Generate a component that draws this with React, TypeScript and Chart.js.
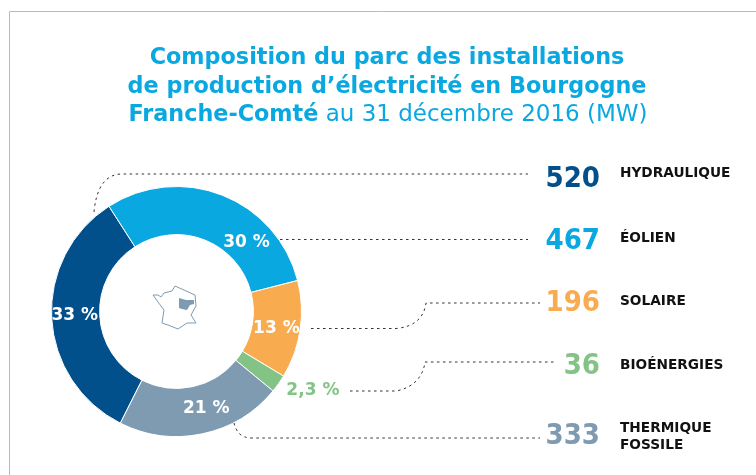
import React, { useEffect, useRef } from "react";
import { Chart, registerables } from "chart.js";

Chart.register(...registerables);

const categories = ["HYDRAULIQUE", "ÉOLIEN", "SOLAIRE", "BIOÉNERGIES", "THERMIQUE FOSSILE"];
const values = [520, 467, 196, 36, 333];
const percentLabels = ["33 %", "30 %", "13 %", "2,3 %", "21 %"];
const colors = ["#01508c", "#09a8e0", "#f9ab50", "#83c486", "#7e9bb2"];
const percentColors = ["#ffffff", "#ffffff", "#ffffff", "#83c486", "#ffffff"];

const FONT = '"DejaVu Sans", sans-serif';
const NARROW = '"DejaVu Sans Condensed", "DejaVu Sans", sans-serif';
const BOLD = `bold 22.3px ${FONT}`;
const REG = `23px ${FONT}`;

const percentOffsets = [[-1, -1], [33, 25], [0, 2], [54, 21], [9, -2]];
const valueBaselines = [187, 249, 311, 374, 444];
const labelLines = [["HYDRAULIQUE"], ["ÉOLIEN"], ["SOLAIRE"], ["BIOÉNERGIES"], ["THERMIQUE", "FOSSILE"]];
const labelBaselines = [[177], [242], [305], [369], [432, 449]];

function leaders(ctx: CanvasRenderingContext2D) {
  const path = (fn: () => void) => {
    ctx.beginPath();
    fn();
    ctx.stroke();
  };
  ctx.save();
  ctx.strokeStyle = "#333333";
  ctx.lineWidth = 1;
  ctx.setLineDash([2.5, 3.5]);
  path(() => {
    ctx.moveTo(94, 212);
    ctx.bezierCurveTo(96, 190, 104, 174, 122, 174);
    ctx.lineTo(528, 174);
  });
  path(() => {
    ctx.moveTo(280, 239.5);
    ctx.lineTo(528, 239.5);
  });
  path(() => {
    ctx.moveTo(311, 328.5);
    ctx.lineTo(396, 328.5);
    ctx.bezierCurveTo(414, 327, 424, 318, 426, 303);
    ctx.lineTo(540, 303);
  });
  path(() => {
    ctx.moveTo(350, 391);
    ctx.lineTo(396, 391);
    ctx.bezierCurveTo(412, 388, 423, 378, 425, 362);
    ctx.lineTo(555, 362);
  });
  path(() => {
    ctx.moveTo(234, 423);
    ctx.bezierCurveTo(236, 431, 240, 438, 252, 438);
    ctx.lineTo(540, 438);
  });
  ctx.restore();
}

function franceMap(ctx: CanvasRenderingContext2D) {
  const outline = [[153, 295], [158, 295], [161, 297], [164, 293], [172, 291], [175, 286], [184, 290], [195, 295], [196, 306], [191, 315], [196, 323], [187, 323], [178, 329], [168, 325], [162, 323], [164, 310], [158, 302]];
  const region = [[179, 298], [186, 300], [194, 300], [194, 304], [190, 305], [187, 310], [182, 309], [179, 308]];
  const poly = (pts: number[][]) => {
    ctx.beginPath();
    pts.forEach(([x, y], i) => (i ? ctx.lineTo(x, y) : ctx.moveTo(x, y)));
    ctx.closePath();
  };
  ctx.save();
  ctx.strokeStyle = "#7e9bb2";
  ctx.lineWidth = 1;
  poly(outline);
  ctx.stroke();
  ctx.fillStyle = "#7e9bb2";
  poly(region);
  ctx.fill();
  ctx.restore();
}

const overlay = {
  id: "overlay",
  afterDatasetsDraw(chart: any) {
    const ctx: CanvasRenderingContext2D = chart.ctx;
    ctx.save();
    // frame
    ctx.strokeStyle = "#bbbbbb";
    ctx.lineWidth = 1;
    ctx.beginPath();
    ctx.moveTo(9.5, 475);
    ctx.lineTo(9.5, 11.5);
    ctx.lineTo(756, 11.5);
    ctx.stroke();

    // title
    ctx.fillStyle = "#09a8e0";
    ctx.textBaseline = "alphabetic";
    ctx.textAlign = "center";
    ctx.font = BOLD;
    ctx.fillText("Composition du parc des installations", 387, 64);
    ctx.fillText("de production d’électricité en Bourgogne", 387, 93);
    ctx.textAlign = "left";
    const a = "Franche-Comté";
    const b = " au 31 décembre 2016 (MW)";
    ctx.font = BOLD;
    const wa = ctx.measureText(a).width;
    ctx.font = REG;
    const wb = ctx.measureText(b).width;
    const x0 = 388 - (wa + wb) / 2;
    ctx.font = BOLD;
    ctx.fillText(a, x0, 121);
    ctx.font = REG;
    ctx.fillText(b, x0 + wa, 121);

    leaders(ctx);
    franceMap(ctx);

    // percent labels
    const arcs = chart.getDatasetMeta(0).data;
    ctx.textAlign = "center";
    ctx.textBaseline = "middle";
    ctx.font = `bold 17px ${FONT}`;
    arcs.forEach((arc: any, i: number) => {
      const c = arc.getCenterPoint();
      ctx.fillStyle = percentColors[i];
      ctx.fillText(percentLabels[i], c.x + percentOffsets[i][0], c.y + percentOffsets[i][1]);
    });

    // values and labels
    ctx.textBaseline = "alphabetic";
    values.forEach((v, i) => {
      ctx.textAlign = "right";
      ctx.fillStyle = colors[i];
      ctx.font = `bold 29px ${NARROW}`;
      ctx.fillText(String(v), 600, valueBaselines[i]);
      ctx.textAlign = "left";
      ctx.fillStyle = "#111111";
      ctx.font = `bold 13.7px ${FONT}`;
      labelLines[i].forEach((t, k) => ctx.fillText(t, 620, labelBaselines[i][k]));
    });
    ctx.restore();
  },
};

export default function App() {
  const ref = useRef<HTMLCanvasElement>(null);
  useEffect(() => {
    document.body.style.margin = "0";
    document.body.style.background = "#ffffff";
    const chart = new Chart(ref.current!, {
      type: "doughnut",
      data: {
        labels: categories,
        datasets: [
          {
            data: values,
            backgroundColor: colors,
            borderColor: "#ffffff",
            borderWidth: 1,
          },
        ],
      },
      options: {
        responsive: false,
        animation: false,
        rotation: -153.3,
        cutout: "61.5%",
        layout: { padding: { left: 51, right: 454, top: 186, bottom: 38 } },
        plugins: { legend: { display: false }, tooltip: { enabled: false }, title: { display: false } },
      },
      plugins: [overlay],
    });
    return () => chart.destroy();
  }, []);
  return <canvas ref={ref} width={756} height={475} style={{ display: "block" }} />;
}
